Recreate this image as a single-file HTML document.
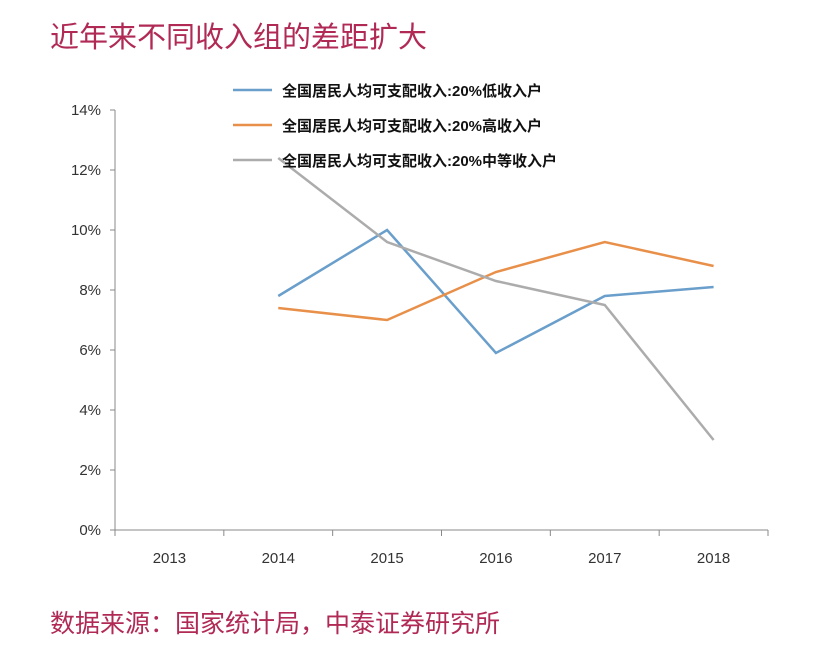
<!DOCTYPE html>
<html><head><meta charset="utf-8">
<style>
body{margin:0;width:819px;height:663px;background:#fff;overflow:hidden;font-family:"Liberation Sans","Noto Sans CJK SC",sans-serif;}
.title{position:absolute;left:50px;top:14px;font-size:29px;color:#b02a55;}
.foot{position:absolute;left:50px;top:604px;font-size:25px;color:#b02a55;}
svg{position:absolute;left:0;top:0;}
</style></head><body>
<div class="title">近年来不同收入组的差距扩大</div>
<div class="foot">数据来源：国家统计局，中泰证券研究所</div>
<svg id="c" width="819" height="663"></svg>
<script>
const categories=["2013","2014","2015","2016","2017","2018"];
const lowIncome=[null,7.8,10.0,5.9,7.8,8.1];
const highIncome=[null,7.4,7.0,8.6,9.6,8.8];
const midIncome=[null,12.4,9.6,8.3,7.5,3.0];
const yTicks=[0,2,4,6,8,10,12,14];
const seriesNames=["全国居民人均可支配收入:20%低收入户","全国居民人均可支配收入:20%高收入户","全国居民人均可支配收入:20%中等收入户"];
const colors=["#6a9ecb","#e8904a","#acacac"];
const svg=document.getElementById('c');const NS="http://www.w3.org/2000/svg";
const x0=115,x1=768,y0=530,y1=110;
const bw=(x1-x0)/categories.length;
const X=i=>x0+bw*(i+0.5);
const Y=v=>y0-(v/14)*(y0-y1);
function mk(t,a,p){const e=document.createElementNS(NS,t);for(const k in a)e.setAttribute(k,a[k]);(p||svg).appendChild(e);return e;}
let e=mk('line',{x1:x0,y1:y0,x2:x1,y2:y0,stroke:'#888'});

e=mk('line',{x1:x0,y1:y1,x2:x0,y2:y0,stroke:'#888'});

yTicks.forEach(v=>{mk('line',{x1:x0-5,y1:Y(v),x2:x0,y2:Y(v),stroke:'#888'});
const t=mk('text',{x:x0-14,y:Y(v)+5,'text-anchor':'end','font-size':15,fill:'#333'});t.textContent=v+'%';
});
for(let i=0;i<=categories.length;i++)mk('line',{x1:x0+bw*i,y1:y0,x2:x0+bw*i,y2:y0+6,stroke:'#888'});
categories.forEach((c,i)=>{const t=mk('text',{x:X(i),y:y0+33,'text-anchor':'middle','font-size':15,fill:'#333'});t.textContent=c;
});
[lowIncome,highIncome,midIncome].forEach((s,k)=>{let d='';s.forEach((v,i)=>{if(v==null)return;d+=(d?'L':'M')+X(i)+' '+Y(v);});
const p=mk('path',{d:d,fill:'none',stroke:colors[k],'stroke-width':2.5});

const g=mk('g',{});
mk('line',{x1:233,y1:90+35*k,x2:272,y2:90+35*k,stroke:colors[k],'stroke-width':2.5},g);
const t=mk('text',{x:282,y:96+35*k,'font-size':15,'font-weight':'bold',fill:'#111'},g);t.textContent=seriesNames[k];});
</script>
</body></html>
